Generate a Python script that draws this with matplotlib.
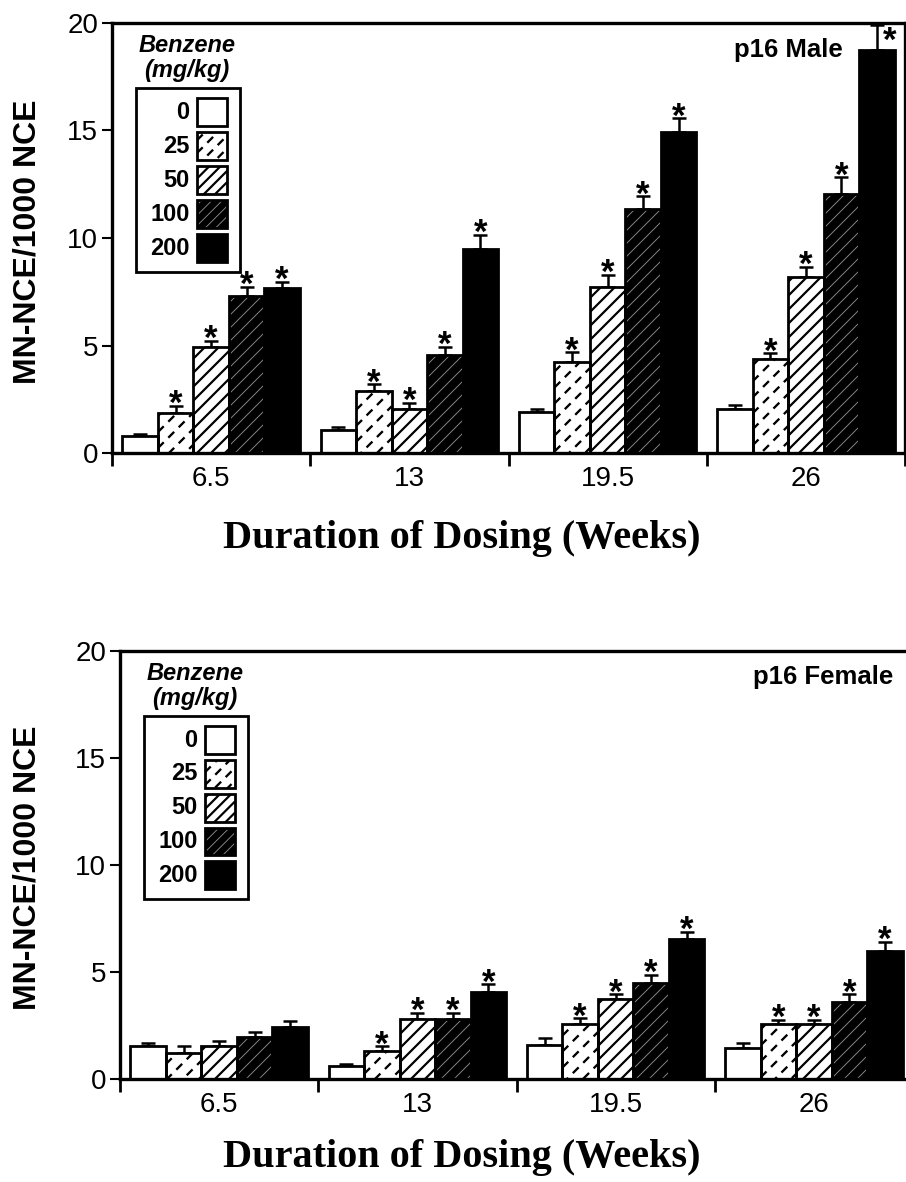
import numpy as np
import matplotlib.pyplot as plt
from matplotlib.patches import Rectangle
from matplotlib.collections import LineCollection
from matplotlib.transforms import IdentityTransform

plt.rcParams['font.family'] = ['Liberation Sans', 'DejaVu Sans']

weeks = ["6.5", "13", "19.5", "26"]
doses = ["0", "25", "50", "100", "200"]

# rows = dose (mg/kg), columns = week
male_mean = [
    [0.80, 1.08, 1.93, 2.06],
    [1.87, 2.91, 4.25, 4.37],
    [4.94, 2.04, 7.74, 8.20],
    [7.30, 4.57, 11.33, 12.04],
    [7.66, 9.47, 14.94, 18.73],
]
male_err = [
    [0.10, 0.15, 0.12, 0.20],
    [0.35, 0.30, 0.45, 0.28],
    [0.28, 0.30, 0.55, 0.47],
    [0.43, 0.38, 0.60, 0.78],
    [0.30, 0.67, 0.62, 1.17],
]
male_sig = [
    [0, 0, 0, 0],
    [1, 1, 1, 1],
    [1, 1, 1, 1],
    [1, 1, 1, 1],
    [1, 1, 1, 1],
]
female_mean = [
    [1.54, 0.61, 1.59, 1.43],
    [1.23, 1.32, 2.57, 2.57],
    [1.56, 2.79, 3.74, 2.57],
    [1.98, 2.79, 4.50, 3.58],
    [2.41, 4.05, 6.54, 5.98],
]
female_err = [
    [0.15, 0.10, 0.31, 0.27],
    [0.30, 0.22, 0.26, 0.19],
    [0.22, 0.30, 0.22, 0.19],
    [0.23, 0.30, 0.36, 0.38],
    [0.30, 0.37, 0.34, 0.44],
]
female_sig = [
    [0, 0, 0, 0],
    [0, 1, 1, 1],
    [0, 1, 1, 1],
    [0, 1, 1, 1],
    [0, 1, 1, 1],
]

# fill colour and hatch (colour, width px, linestyle, spacing px) per dose
STYLES = [
    ('white', None),
    ('white', ('black', 2.3, (0, (3.6, 2.8)), 16.0)),
    ('white', ('black', 2.2, 'solid', 14.0)),
    ('black', ('#8c8c8c', 0.9, 'solid', 13.0)),
    ('black', None),
]
BAR_W = 0.179
EDGE_LW = 2.0


def add_hatch(ax, patch, hatch, scale=1.0):
    # diagonal hatch lines drawn in pixel space and clipped to the patch
    color, lw, ls, step = hatch
    step = step * scale
    bb = patch.get_window_extent()
    x0, y0, x1, y1 = bb.x0, bb.y0, bb.x1, bb.y1
    k0 = int(np.floor((y0 - x1) / step))
    k1 = int(np.ceil((y1 - x0) / step))
    segs = [[(x0, x0 + k * step), (x1, x1 + k * step)] for k in range(k0, k1 + 1)]
    lc = LineCollection(segs, colors=color, linewidths=lw * 0.72, linestyles=ls,
                        transform=IdentityTransform(), zorder=2.5)
    ax.add_collection(lc, autolim=False)
    lc.set_clip_path(patch)


def draw_panel(ax, means, errs, sigs, title, title_x):
    ax.set_xlim(-0.5, 3.5)
    ax.set_ylim(0, 20)
    x = np.arange(len(weeks))
    for j in range(len(doses)):
        fc, hatch = STYLES[j]
        xs = x + (j - 2) * BAR_W
        ax.errorbar(xs, means[j], yerr=[np.zeros(len(weeks)), errs[j]], fmt='none',
                    ecolor='black', elinewidth=1.8, capsize=5, capthick=1.8, zorder=1.5)
        bars = ax.bar(xs, means[j], BAR_W, color=fc, edgecolor='none', zorder=2)
        ax.bar(xs, means[j], BAR_W, fill=False, edgecolor='black', linewidth=EDGE_LW, zorder=3)
        if hatch is not None:
            for b in bars:
                add_hatch(ax, b, hatch)
        for i in range(len(weeks)):
            if not sigs[j][i]:
                continue
            top = means[j][i] + errs[j][i]
            off = (0, -6)
            if top > 19:
                off = (9, -19)
            ax.annotate('*', (xs[i], top), xytext=off, textcoords='offset points',
                        ha='center', va='baseline', fontsize=25, fontweight='bold')

    # axes styling
    for s in ax.spines.values():
        s.set_linewidth(2.4)
    ax.set_yticks([0, 5, 10, 15, 20])
    ax.tick_params(axis='y', direction='out', length=7, width=1.5, labelsize=20, pad=3)
    ax.set_xticks(x, weeks)
    ax.set_xticks(np.arange(-0.5, 4.0, 1.0), minor=True)
    ax.tick_params(axis='x', which='major', length=0, labelsize=20, pad=9)
    ax.tick_params(axis='x', which='minor', direction='out', length=9, width=2)

    ax.text(title_x[0], title_x[1], title, transform=ax.transAxes, ha='right', va='center',
            fontsize=18.5, fontweight='bold')

    # hand-made legend box
    ax.text(0.0946, 0.948, 'Benzene', transform=ax.transAxes, ha='center', va='center',
            fontsize=17, fontstyle='italic', fontweight='bold')
    ax.text(0.0946, 0.890, '(mg/kg)', transform=ax.transAxes, ha='center', va='center',
            fontsize=17, fontstyle='italic', fontweight='bold')
    ax.add_patch(Rectangle((0.030, 0.421), 0.131, 0.427, transform=ax.transAxes,
                           fill=False, edgecolor='black', linewidth=2.0, zorder=3))
    for j, lab in enumerate(doses):
        yc = 0.792 - j * 0.079
        fc, hatch = STYLES[j]
        p = Rectangle((0.107, yc - 0.0325), 0.038, 0.065, transform=ax.transAxes,
                      facecolor=fc, edgecolor='none', zorder=2)
        ax.add_patch(p)
        if hatch is not None:
            add_hatch(ax, p, hatch, scale=0.8)
        ax.add_patch(Rectangle((0.107, yc - 0.0325), 0.038, 0.065, transform=ax.transAxes,
                               fill=False, edgecolor='black', linewidth=EDGE_LW, zorder=3))
        ax.text(0.098, yc, lab, transform=ax.transAxes, ha='right', va='center',
                fontsize=17, fontweight='bold')


fig = plt.figure(figsize=(9.06, 11.82), dpi=100)
ax1 = fig.add_axes([112 / 906, 1 - 453.3 / 1182, 793 / 906, 430.6 / 1182])
ax2 = fig.add_axes([120 / 906, 1 - 1079 / 1182, 793 / 906, 428 / 1182])

draw_panel(ax1, male_mean, male_err, male_sig, 'p16 Male', (0.922, 0.937))
draw_panel(ax2, female_mean, female_err, female_sig, 'p16 Female', (0.975, 0.939))

for yc in (242, 868):
    fig.text(28 / 906, 1 - yc / 1182, 'MN-NCE/1000 NCE', rotation=90, ha='center', va='center',
             fontsize=23, fontweight='bold')
for yc in (538, 1158):
    fig.text(462 / 906, 1 - yc / 1182, 'Duration of Dosing (Weeks)', ha='center', va='center',
             fontsize=29, fontweight='bold', family=['Liberation Serif', 'DejaVu Serif'])

fig.savefig('out.png', dpi=100)
